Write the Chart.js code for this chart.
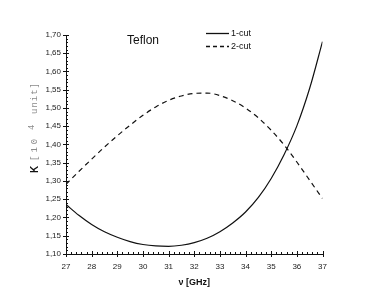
<!DOCTYPE html>
<html>
<head>
<meta charset="utf-8">
<script src="https://cdn.jsdelivr.net/npm/chart.js@4/dist/chart.umd.min.js"></script>
<style>
html,body{margin:0;padding:0;background:#fff;}
#wrap{width:374px;height:305px;position:relative;}
</style>
</head>
<body>
<div id="wrap"><canvas id="c" width="374" height="305"></canvas></div>
<script>
// Frequency (GHz)
const freq = [27,27.5,28,28.5,29,29.5,30,30.5,31,31.5,32,32.5,33,33.5,34,34.5,35,35.5,36,36.5,37];
// 1-cut series
const cut1 = [1.236,1.206,1.181,1.161,1.146,1.134,1.126,1.122,1.121,1.124,1.131,1.143,1.161,1.185,1.215,1.255,1.307,1.372,1.451,1.554,1.682];
// 2-cut series
const cut2 = [1.291,1.326,1.360,1.393,1.424,1.453,1.480,1.503,1.521,1.533,1.540,1.541,1.534,1.520,1.500,1.473,1.439,1.399,1.352,1.302,1.252];
const seriesNames = ['1-cut','2-cut'];
const xTicks = [27,28,29,30,31,32,33,34,35,36,37];
const yTicks = [1.10,1.15,1.20,1.25,1.30,1.35,1.40,1.45,1.50,1.55,1.60,1.65,1.70];
const chartLabel = 'Teflon';

const toXY = arr => freq.map((f,i)=>({x:f,y:arr[i]}));

const decor = {
  id:'decor',
  afterDraw(chart){
    const ctx = chart.ctx, a = chart.chartArea;
    const xs = chart.scales.x, ys = chart.scales.y;
    ctx.save();
    ctx.strokeStyle = '#111';
    ctx.lineWidth = 1;
    // x ticks
    for (let k=0;k<=50;k++){
      const v = 27 + k*0.2;
      const px = Math.round(xs.getPixelForValue(v))+0.5;
      ctx.beginPath();
      if (k%5===0){ ctx.moveTo(px,a.bottom+3); ctx.lineTo(px,a.bottom-3); }
      else { ctx.moveTo(px,a.bottom); ctx.lineTo(px,a.bottom-2); }
      ctx.stroke();
    }
    // y ticks
    for (let k=0;k<=60;k++){
      const v = 1.10 + k*0.01;
      const py = Math.round(ys.getPixelForValue(v))+0.5;
      ctx.beginPath();
      if (k%5===0){ ctx.moveTo(a.left-3,py); ctx.lineTo(a.left+3,py); }
      else { ctx.moveTo(a.left,py); ctx.lineTo(a.left+2,py); }
      ctx.stroke();
    }
    // chart label
    ctx.fillStyle = '#111';
    ctx.font = '12px "Liberation Sans", Arial, sans-serif';
    ctx.textBaseline = 'middle';
    ctx.textAlign = 'left';
    ctx.fillText(chartLabel, 127, 41);
    // legend
    const items = [{y:33.5,dash:[]},{y:46.5,dash:[4,3]}];
    ctx.font = '9px "Liberation Sans", Arial, sans-serif';
    items.forEach((it,i)=>{
      ctx.setLineDash(it.dash);
      ctx.lineWidth = 1.3;
      ctx.beginPath(); ctx.moveTo(206,it.y); ctx.lineTo(229,it.y); ctx.stroke();
      ctx.setLineDash([]);
      ctx.fillText(seriesNames[i], 231, it.y);
    });
    // y-axis title
    ctx.translate(35, 0);
    ctx.rotate(-Math.PI/2);
    ctx.textBaseline = 'middle';
    ctx.textAlign = 'left';
    ctx.fillStyle = '#111';
    ctx.font = 'bold 10px "Liberation Sans", Arial, sans-serif';
    ctx.fillText('K', -173, 0);
    ctx.fillStyle = '#8a8a8a';
    ctx.font = '9px "Liberation Mono", monospace';
    try { ctx.letterSpacing = '3px'; } catch(e){}
    ctx.fillText('[10', -161, 0);
    ctx.fillText('4', -130, -3);
    try { ctx.letterSpacing = '1px'; } catch(e){}
    ctx.fillText('unit]', -114, 0);
    ctx.restore();
  }
};

new Chart(document.getElementById('c'), {
  type:'line',
  data:{
    datasets:[
      {label:seriesNames[0], data:toXY(cut1), borderColor:'#111', borderWidth:1.2, pointRadius:0, cubicInterpolationMode:'monotone', fill:false},
      {label:seriesNames[1], data:toXY(cut2), borderColor:'#111', borderWidth:1.2, borderDash:[5,4], pointRadius:0, cubicInterpolationMode:'monotone', fill:false}
    ]
  },
  options:{
    responsive:false,
    animation:false,
    devicePixelRatio:1,
    layout:{padding:{left:0,right:51.5,top:35,bottom:0}},
    plugins:{legend:{display:false},tooltip:{enabled:false}},
    scales:{
      x:{
        type:'linear', min:27, max:37,
        afterBuildTicks(s){ s.ticks = xTicks.map(v=>({value:v})); },
        afterFit(s){ s.height = 51; },
        grid:{display:false, drawTicks:false},
        border:{display:true,color:'#111',width:1},
        ticks:{padding:8, color:'#222', font:{family:'"Liberation Sans", Arial, sans-serif', size:8}, maxRotation:0, autoSkip:false, callback:v=>String(v)},
        title:{display:true, text:'ν [GHz]', color:'#111', font:{family:'"Liberation Sans", Arial, sans-serif', size:9, weight:'bold'}, padding:{top:0,bottom:17}}
      },
      y:{
        type:'linear', min:1.10, max:1.70,
        afterBuildTicks(s){ s.ticks = yTicks.map(v=>({value:v})); },
        afterFit(s){ s.width = 66; },
        grid:{display:false, drawTicks:false},
        border:{display:true,color:'#111',width:1},
        ticks:{padding:5, color:'#222', font:{family:'"Liberation Sans", Arial, sans-serif', size:8}, autoSkip:false, callback:v=>v.toFixed(2).replace('.',',')}
      }
    }
  },
  plugins:[decor]
});
</script>
</body>
</html>
